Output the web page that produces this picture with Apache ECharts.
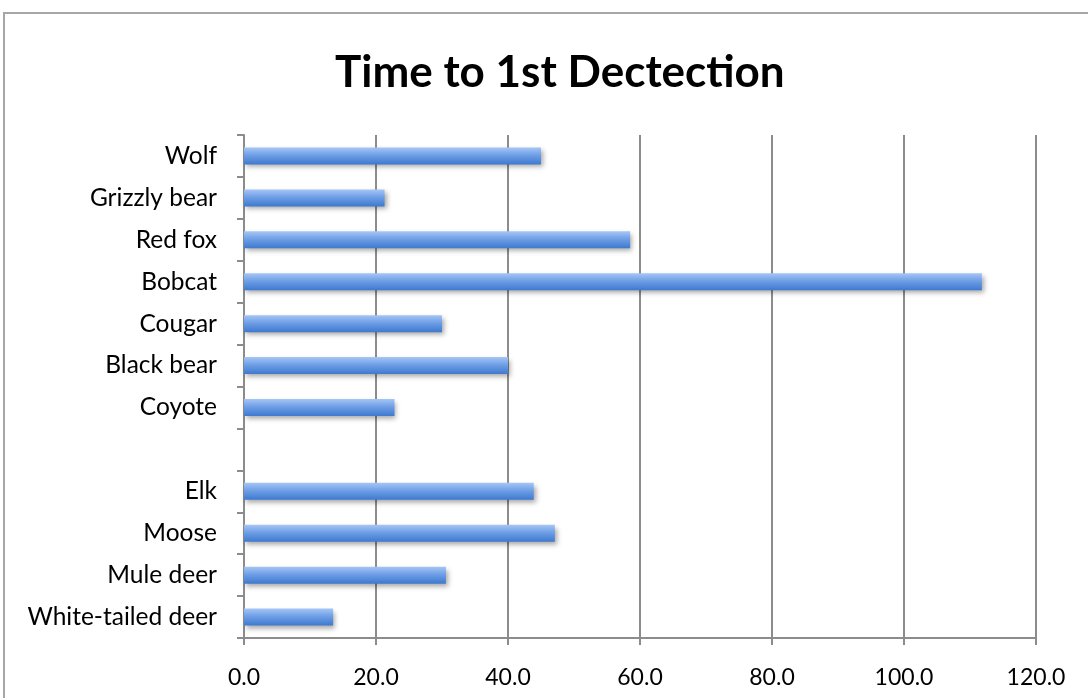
<!DOCTYPE html>
<html>
<head>
<meta charset="utf-8">
<script src="https://cdn.jsdelivr.net/npm/echarts@6/dist/echarts.min.js"></script>
<style>
  html, body { margin: 0; padding: 0; background: #fff; }
  #chart { width: 1088px; height: 698px; }
</style>
</head>
<body>
<div id="chart"></div>
<script>
// Species, listed top to bottom; the empty entry separates predators from ungulates
const species = ['Wolf', 'Grizzly bear', 'Red fox', 'Bobcat', 'Cougar', 'Black bear', 'Coyote', '',
                 'Elk', 'Moose', 'Mule deer', 'White-tailed deer'];
// Time to first detection for each species
const timeToDetection = [45.0, 21.3, 58.5, 111.8, 30.0, 40.0, 22.8, null, 43.9, 47.1, 30.6, 13.5];
// Value axis range and step
const axisMin = 0;
const axisMax = 120;
const axisStep = 20;

const chart = echarts.init(document.getElementById('chart'), null, { renderer: 'canvas' });
const fontFamily = 'Lato, "Open Sans", sans-serif';
const axisGray = '#8c8c8c';

chart.setOption({
  animation: false,
  backgroundColor: '#ffffff',
  title: {
    text: 'Time to 1st Dectection',
    left: 330,
    top: 46,
    textStyle: { fontFamily, fontWeight: 'bold', fontSize: 44, color: '#000' }
  },
  graphic: [{
    type: 'rect',
    shape: { x: 4, y: 13, width: 1200, height: 800 },
    style: { fill: 'none', stroke: '#a6a6a6', lineWidth: 2 },
    z: -1
  }],
  grid: { left: 244, right: 52, top: 135, bottom: 60, containLabel: false },
  xAxis: {
    type: 'value',
    min: axisMin,
    max: axisMax,
    interval: axisStep,
    axisLine: { show: true, lineStyle: { color: axisGray, width: 2 } },
    axisTick: { show: true, length: 7, lineStyle: { color: axisGray, width: 2 } },
    axisLabel: {
      fontFamily, fontSize: 23, color: '#000', margin: 28,
      formatter: v => v.toFixed(1)
    },
    splitLine: { show: true, lineStyle: { color: axisGray, width: 2 } }
  },
  yAxis: {
    type: 'category',
    data: species,
    inverse: true,
    axisLine: { show: true, lineStyle: { color: axisGray, width: 2 } },
    axisTick: { show: true, length: 7, lineStyle: { color: axisGray, width: 2 } },
    axisLabel: { fontFamily, fontSize: 24.5, color: '#000', margin: 27, padding: [5, 0, 0, 0] }
  },
  series: [{
    type: 'bar',
    data: timeToDetection,
    barWidth: 17,
    itemStyle: {
      color: new echarts.graphic.LinearGradient(0, 0, 0, 1, [
        { offset: 0, color: '#a6c6f6' },
        { offset: 0.45, color: '#6f9fe6' },
        { offset: 1, color: '#3e79cf' }
      ]),
      shadowBlur: 5,
      shadowOffsetX: 2,
      shadowOffsetY: 3,
      shadowColor: 'rgba(0,0,0,0.35)'
    }
  }]
});
</script>
</body>
</html>
